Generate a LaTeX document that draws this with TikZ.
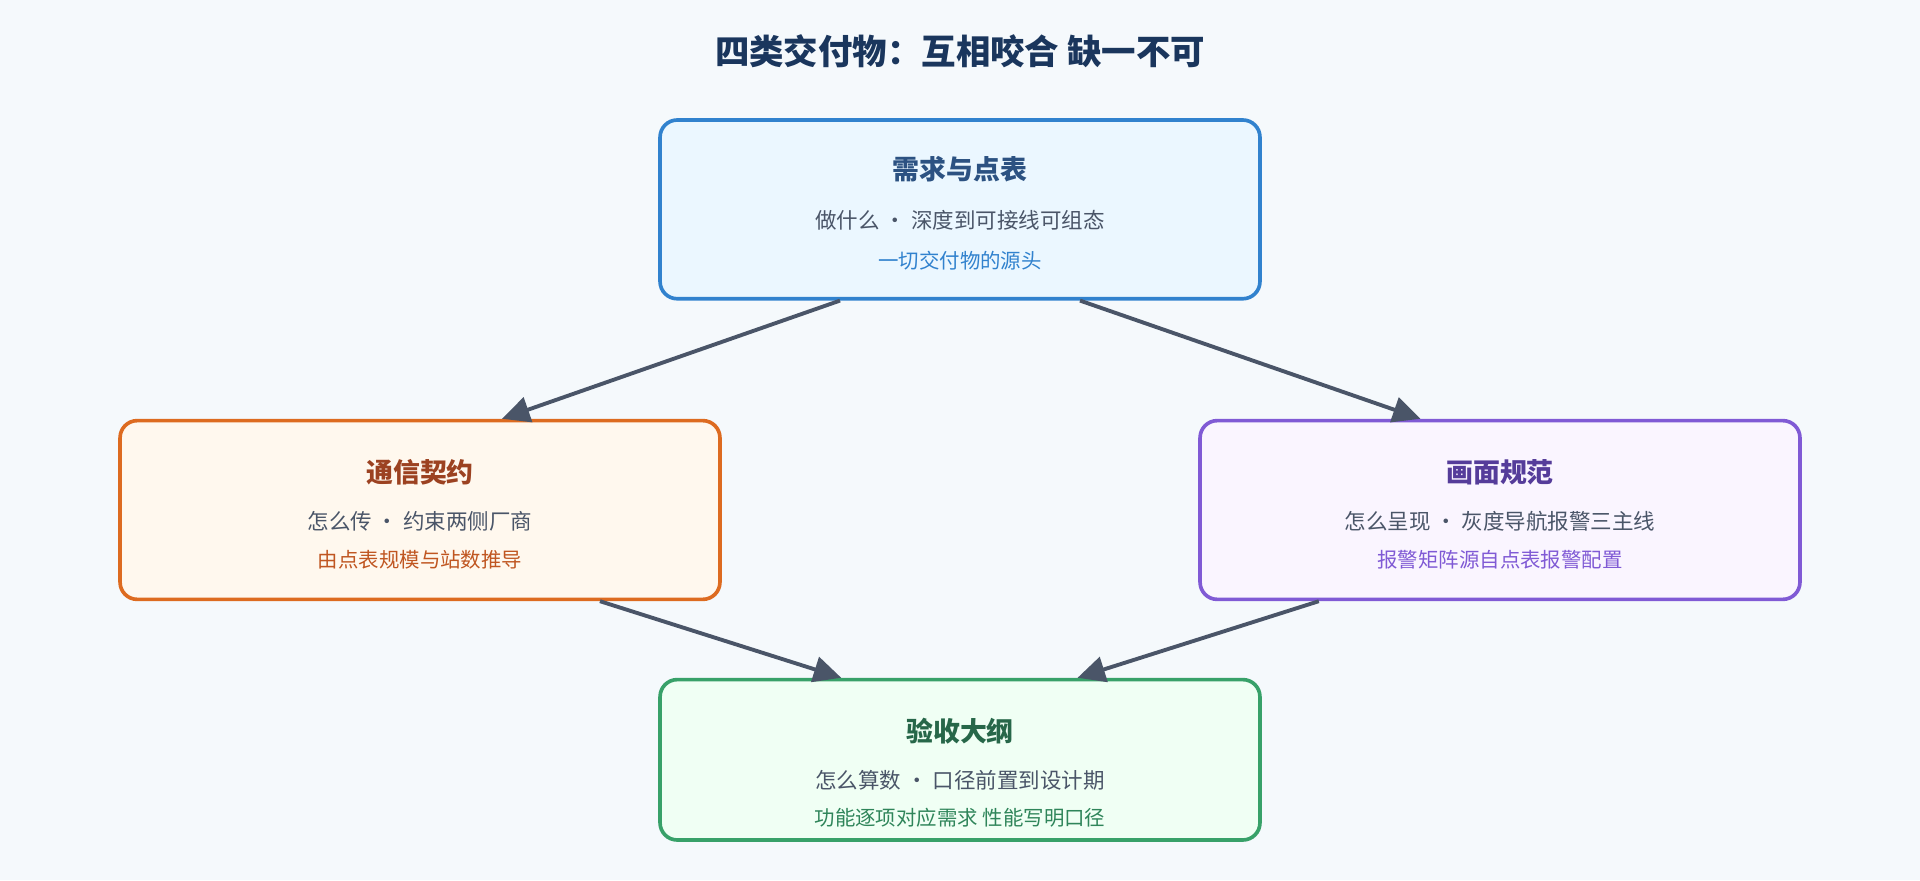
\documentclass[tikz,border=0pt]{standalone}
\usepackage{fontspec}
\setmainfont{Noto Sans CJK SC}
\usetikzlibrary{arrows.meta,calc}
\definecolor{bgc}{HTML}{F5F9FC}
\definecolor{ink}{HTML}{4A5568}
\definecolor{ttl}{HTML}{1A365D}
\definecolor{blueB}{HTML}{3182CE}\definecolor{blueF}{HTML}{EBF7FF}\definecolor{blueT}{HTML}{2C5282}
\definecolor{orgB}{HTML}{DD6B20}\definecolor{orgF}{HTML}{FFF8EE}\definecolor{orgT}{HTML}{9C4221}\definecolor{orgS}{HTML}{C05621}
\definecolor{purB}{HTML}{805AD5}\definecolor{purF}{HTML}{FAF5FF}\definecolor{purT}{HTML}{553C9A}
\definecolor{grnB}{HTML}{38A169}\definecolor{grnF}{HTML}{F0FFF4}\definecolor{grnT}{HTML}{276749}\definecolor{grnS}{HTML}{2F855A}
\begin{document}
\begin{tikzpicture}[x=0.02cm,y=-0.02cm,
        box/.style={rectangle, draw, line width=1.7pt, rounded corners=0.28cm, minimum width=9.8cm, minimum height=2.92cm},
        head/.style={font=\fontsize{12.5}{14}\selectfont\bfseries},
        line/.style={font=\fontsize{10}{12}\selectfont, text=ink},
        note/.style={font=\fontsize{9.5}{11}\selectfont},
        arrow/.style={-{Triangle[length=0.45cm,width=0.42cm]}, line width=1.8pt, draw=ink}
    ]
        \fill[bgc] (0,0) rectangle (1568,719);
        \node[font=\fontsize{16}{18}\selectfont\bfseries, text=ttl] (title) at (784,42) {四类交付物：互相咬合 缺一不可};

        % Requirements
        \node[box, draw=blueB, fill=blueF] (req) at (784,171) {};
        \node[head, text=blueT] (reqA) at ($(req.center)+(0,-33)$) {需求与点表};
        \node[line] (reqB) at ($(req.center)+(0,9)$) {做什么 · 深度到可接线可组态};
        \node[note, text=blueB] (reqC) at ($(req.center)+(0,42)$) {一切交付物的源头};

        % Communication
        \node[box, draw=orgB, fill=orgF] (comm) at (343,416.5) {};
        \node[head, text=orgT] (commA) at ($(comm.center)+(0,-31)$) {通信契约};
        \node[line] (commB) at ($(comm.center)+(0,9)$) {怎么传 · 约束两侧厂商};
        \node[note, text=orgS] (commC) at ($(comm.center)+(0,41)$) {由点表规模与站数推导};

        % Screens
        \node[box, draw=purB, fill=purF] (hmi) at (1225,416.5) {};
        \node[head, text=purT] (hmiA) at ($(hmi.center)+(0,-31)$) {画面规范};
        \node[line] (hmiB) at ($(hmi.center)+(0,9)$) {怎么呈现 · 灰度导航报警三主线};
        \node[note, text=purB] (hmiC) at ($(hmi.center)+(0,41)$) {报警矩阵源自点表报警配置};

        % Acceptance
        \node[box, draw=grnB, fill=grnF, minimum height=2.62cm] (acc) at (784,620.5) {};
        \node[head, text=grnT] (accA) at ($(acc.center)+(0,-23)$) {验收大纲};
        \node[line] (accB) at ($(acc.center)+(0,17)$) {怎么算数 · 口径前置到设计期};
        \node[note, text=grnS] (accC) at ($(acc.center)+(0,47)$) {功能逐项对应需求 性能写明口径};

        \draw[arrow] ([xshift=-1.96cm]req.south) -- ([xshift=1.34cm]comm.north);
        \draw[arrow] ([xshift=1.96cm]req.south) -- ([xshift=-1.3cm]hmi.north);
        \draw[arrow] ([xshift=2.94cm]comm.south) -- ([xshift=-1.94cm]acc.north);
        \draw[arrow] ([xshift=-2.96cm]hmi.south) -- ([xshift=1.92cm]acc.north);
    \end{tikzpicture}
\end{document}
